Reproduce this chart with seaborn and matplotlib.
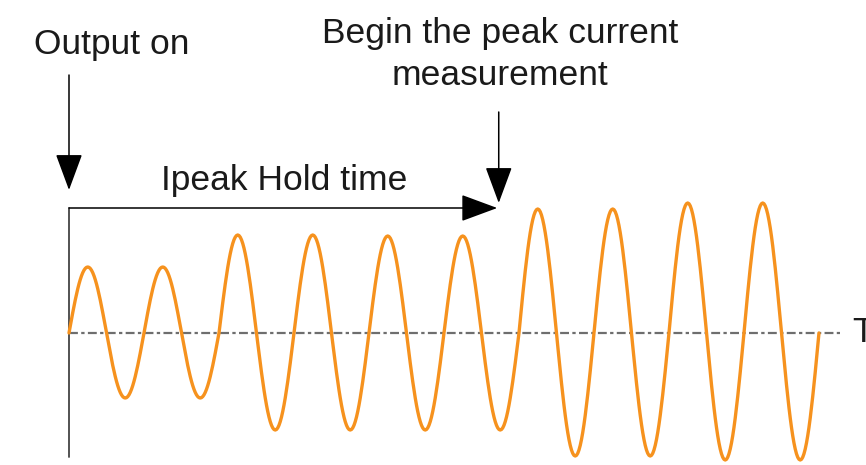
import matplotlib
matplotlib.use("Agg")
import matplotlib.pyplot as plt
import numpy as np
import pandas as pd
import seaborn as sns

# amplitude of each cycle (zero line = 0, 1 unit ~ 100 px)
cycle = list(range(10))
peak_amp = [0.66, 0.66, 0.98, 0.98, 0.97, 0.97, 1.24, 1.24, 1.30, 1.30]
trough_amp = [0.65, 0.65, 0.97, 0.97, 0.97, 0.97, 1.23, 1.23, 1.27, 1.27]

hold_end = 5.71      # end of the Ipeak hold time (in cycles)
axis_end = 10.28     # end of the dashed time axis

# ---- build the waveform: half sine per half cycle ----
rows = []
for k, hi, lo in zip(cycle, peak_amp, trough_amp):
    ph = np.linspace(0, 1, 60, endpoint=False)
    amp = np.where(ph < 0.5, hi, lo)
    for p, a in zip(ph, amp):
        rows.append((k + p, a * np.sin(2 * np.pi * p)))
rows.append((len(cycle), 0.0))
wave = pd.DataFrame(rows, columns=["t", "i"])

sns.set_style("white")
plt.rcParams["font.family"] = ["Liberation Sans", "DejaVu Sans"]

fig = plt.figure(figsize=(8.66, 4.65), dpi=100)
ax = fig.add_axes([0, 0, 1, 1])
ax.set_xlim(-0.92, 10.627)
ax.set_ylim(-1.32, 3.33)
ax.axis("off")

# dashed zero / time axis
ax.plot([0, axis_end], [0, 0], color="#6e6e6e", lw=1.6,
        dashes=(4, 1.5, 1.5, 1.5), zorder=1)

sns.lineplot(data=wave, x="t", y="i", color="#F6921E", lw=2.4,
             sort=False, estimator=None, ax=ax, zorder=3)

# vertical axis at output on
ax.plot([0, 0], [-1.24, 1.25], color="#444444", lw=1.3, zorder=2)

arrow = dict(arrowstyle="-|>,head_length=23,head_width=8.5",
             mutation_scale=1, color="black", lw=1.1,
             shrinkA=0, shrinkB=0)

# Ipeak hold time arrow
ax.annotate("", xy=(hold_end, 1.25), xytext=(0, 1.25), arrowprops=arrow)
# output on arrow
ax.annotate("", xy=(0, 1.43), xytext=(0, 2.58), arrowprops=arrow)
# begin measurement arrow
ax.annotate("", xy=(hold_end + 0.02, 1.30), xytext=(hold_end + 0.02, 2.21),
            arrowprops=arrow)

fs = 25.5
ax.text(0.57, 2.89, "Output on", ha="center", va="center", fontsize=fs,
        color="#1a1a1a")
ax.text(5.75, 2.785, "Begin the peak current\nmeasurement", ha="center",
        va="center", fontsize=fs, color="#1a1a1a", linespacing=1.35)
ax.text(2.87, 1.53, "Ipeak Hold time", ha="center", va="center",
        fontsize=fs, color="#1a1a1a")
ax.text(10.45, 0.0, "T", ha="left", va="center", fontsize=fs,
        color="#1a1a1a")

fig.savefig("out.png", dpi=100)
